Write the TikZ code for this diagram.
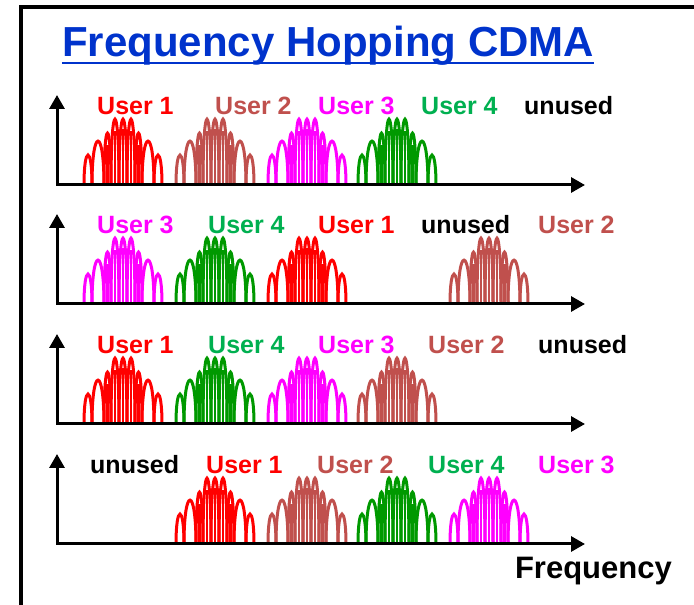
\documentclass[tikz,border=0pt]{standalone}
\usepackage{fontspec}
\setmainfont{Liberation Sans}
\usetikzlibrary{positioning,arrows.meta}

\definecolor{ured}{RGB}{255,0,0}
\definecolor{ubrown}{RGB}{192,80,77}
\definecolor{umag}{RGB}{255,0,255}
\definecolor{ugreen}{RGB}{0,153,0}
\definecolor{ugreentxt}{RGB}{0,176,80}
\definecolor{titleblue}{RGB}{0,51,204}

\begin{document}
\begin{tikzpicture}[x=1pt, y=1pt,
    ulbl/.style={font=\fontsize{25}{25}\selectfont\bfseries, inner sep=0pt, anchor=base west},
    axis/.style={line width=3pt, {Triangle[length=14pt,width=15pt]}-{Triangle[length=14pt,width=15pt]}},
    spec/.pic={
        % lobes
        \foreach \a/\b/\h in {0/8/30,8/20/44,20/27/52,27/35/66,35/43/66,43/51/66,51/58/52,58/70/44,70/78/30}
            \draw[line width=3pt] (\a,0) .. controls (\a,1.33*\h) and (\b,1.33*\h) .. (\b,0);
        % inner strokes of the main lobe
        \foreach \m/\h in {23.5/40,31/54,39/56,47/54,54.5/40}
            \draw[line width=2.6pt] (\m,0) -- (\m,\h);
    }]
    \useasboundingbox (0,0) rectangle (694,605);

    % frame
    \draw[line width=4pt] (21,-10) -- (21,598) -- (700,598);

    % title
    \node[font=\fontsize{42}{42}\selectfont\bfseries, text=titleblue, inner sep=0pt, anchor=base] (title) at (328,548) {Frequency Hopping CDMA};
    \draw[titleblue, line width=2.5pt] ([yshift=-6pt]title.base west) -- ([yshift=-6pt]title.base east);

    % row 1
    \pic[ured] at (84,420) {spec};
    \pic[ubrown] at (176,420) {spec};
    \pic[umag] at (268,420) {spec};
    \pic[ugreen] at (358,420) {spec};
    \node[ulbl, text=ured] (l1a) at (97,490) {User 1};
    \node[ulbl, text=ubrown] (l1b) at (215,490) {User 2};
    \node[ulbl, text=umag] (l1c) at (318,490) {User 3};
    \node[ulbl, text=ugreentxt] (l1d) at (421,490) {User 4};
    \node[ulbl] (l1e) at (524,490) {unused};

    % row 2
    \pic[umag] at (84,301) {spec};
    \pic[ugreen] at (176,301) {spec};
    \pic[ured] at (268,301) {spec};
    \pic[ubrown] at (450,301) {spec};
    \node[ulbl, text=umag] (l2a) at (97,371) {User 3};
    \node[ulbl, text=ugreentxt] (l2b) at (208,371) {User 4};
    \node[ulbl, text=ured] (l2c) at (318,371) {User 1};
    \node[ulbl] (l2d) at (421,371) {unused};
    \node[ulbl, text=ubrown] (l2e) at (538,371) {User 2};

    % row 3
    \pic[ured] at (84,181) {spec};
    \pic[ugreen] at (176,181) {spec};
    \pic[umag] at (268,181) {spec};
    \pic[ubrown] at (358,181) {spec};
    \node[ulbl, text=ured] (l3a) at (97,251) {User 1};
    \node[ulbl, text=ugreentxt] (l3b) at (208,251) {User 4};
    \node[ulbl, text=umag] (l3c) at (318,251) {User 3};
    \node[ulbl, text=ubrown] (l3d) at (428,251) {User 2};
    \node[ulbl] (l3e) at (538,251) {unused};

    % row 4
    \pic[ured] at (176,61) {spec};
    \pic[ubrown] at (268,61) {spec};
    \pic[ugreen] at (358,61) {spec};
    \pic[umag] at (450,61) {spec};
    \node[ulbl] (l4a) at (90,131) {unused};
    \node[ulbl, text=ured] (l4b) at (206,131) {User 1};
    \node[ulbl, text=ubrown] (l4c) at (317,131) {User 2};
    \node[ulbl, text=ugreentxt] (l4d) at (428,131) {User 4};
    \node[ulbl, text=umag] (l4e) at (538,131) {User 3};

    % axes, on top of the spectra
    \foreach \r/\y in {1/420,2/301,3/181,4/61} {
        \coordinate (o\r) at (57,\y);
        \coordinate (yt\r) at (57,\y+90);
        \coordinate (xt\r) at (585,\y);
        \draw[axis] (yt\r) -- (o\r) -- (xt\r);
    }

    \node[font=\fontsize{31}{31}\selectfont\bfseries, inner sep=0pt, anchor=base east] (freq) at (672,26) {Frequency};
\end{tikzpicture}
\end{document}
